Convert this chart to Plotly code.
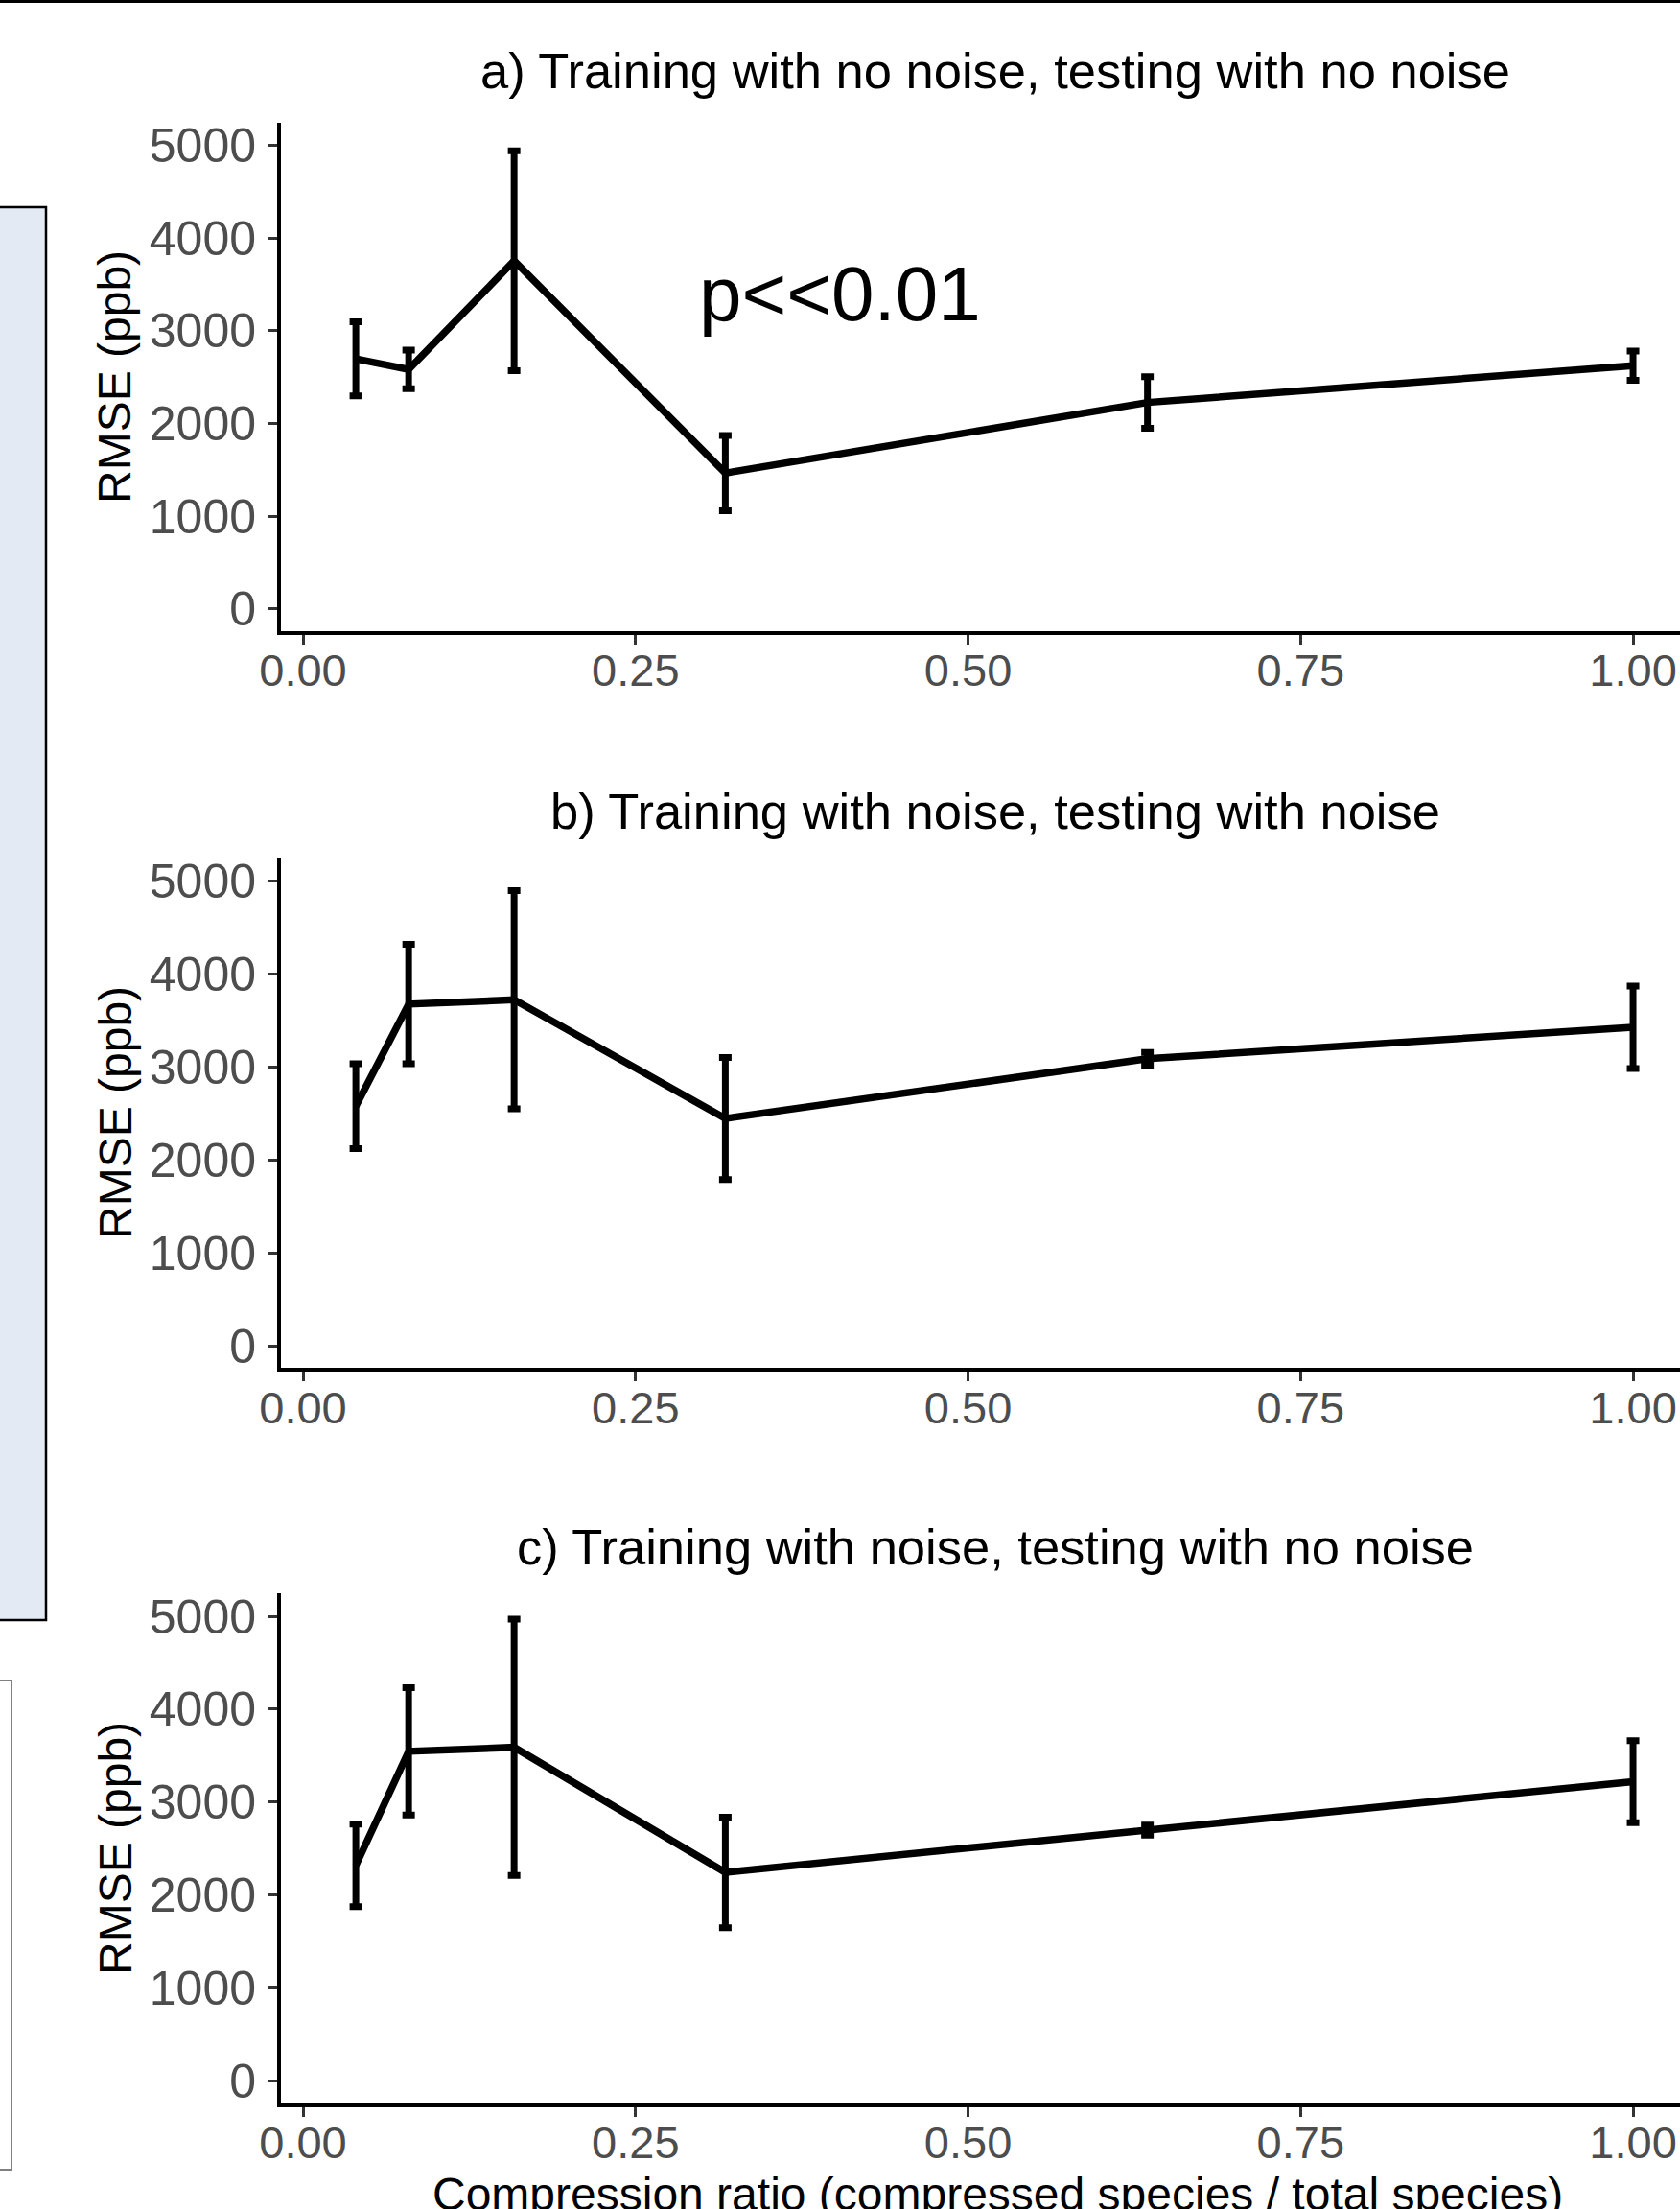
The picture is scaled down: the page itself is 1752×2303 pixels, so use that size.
import plotly.graph_objects as go

# ---- data ----
compression_ratio = [0.0397, 0.0794, 0.1587, 0.3175, 0.6349, 1.0]

rmse_a = [2698, 2583, 3755, 1465, 2227, 2624]
sd_a = [400, 208, 1186, 406, 277, 157]

rmse_b = [2576, 3675, 3721, 2444, 3087, 3425]
sd_b = [456, 643, 1173, 656, 68, 444]

rmse_c = [2319, 3547, 3590, 2243, 2699, 3220]
sd_c = [444, 685, 1381, 595, 54, 441]

panel_titles = [
    "a) Training with no noise, testing with no noise",
    "b) Training with noise, testing with noise",
    "c) Training with noise, testing with no noise",
]
x_ticks = [0.0, 0.25, 0.5, 0.75, 1.0]
x_tick_labels = ["0.00", "0.25", "0.50", "0.75", "1.00"]
y_ticks = [0, 1000, 2000, 3000, 4000, 5000]
y_tick_labels = ["0", "1000", "2000", "3000", "4000", "5000"]
y_title = "RMSE (ppb)"
x_title = "Compression ratio (compressed species / total species)"
p_label = "p<<0.01"

# ---- layout geometry ----
W, H = 1752, 2303
FONT = "Liberation Sans, Arial, Helvetica, sans-serif"

def py(pix):
    return 1 - pix / H

x_dom = [293 / W, 1.0]
x_rng = [-0.0166, 1.0353]
y_rng = [-240, 5245]
y_doms = [
    [py(658), py(128)],
    [py(1426.3), py(894.6)],
    [py(2192.5), py(1661.4)],
]
title_y = [74, 845, 1612]
ytitle_center = [393, 1160, 1927]

fig = go.Figure()
series = [(rmse_a, sd_a), (rmse_b, sd_b), (rmse_c, sd_c)]
for i, (vals, sds) in enumerate(series):
    suffix = "" if i == 0 else str(i + 1)
    fig.add_trace(go.Scatter(
        x=compression_ratio, y=vals,
        mode="lines",
        line=dict(color="black", width=7.5),
        error_y=dict(type="data", array=sds, visible=True,
                     color="black", thickness=7, width=6.5),
        xaxis="x" + suffix, yaxis="y" + suffix,
        showlegend=False, hoverinfo="skip",
    ))

axis_common = dict(
    showgrid=False, zeroline=False, showline=True, automargin=False,
    linecolor="black", linewidth=4,
    ticks="outside", ticklen=10, tickwidth=3, tickcolor="#333333",
)

layout = dict(
    template="none",
    width=W, height=H, autosize=False,
    margin=dict(l=0, r=0, t=0, b=0, pad=0, autoexpand=False),
    paper_bgcolor="white", plot_bgcolor="white",
    font=dict(family=FONT),
    showlegend=False,
)
for i in range(3):
    suffix = "" if i == 0 else str(i + 1)
    layout["xaxis" + suffix] = dict(
        axis_common, domain=x_dom, range=x_rng,
        tickvals=x_ticks, ticktext=x_tick_labels,
        tickfont=dict(family=FONT, size=47, color="#4D4D4D"),
        anchor="y" + suffix, ticklabelstandoff=-13,
    )
    layout["yaxis" + suffix] = dict(
        axis_common, domain=y_doms[i], range=y_rng,
        tickvals=y_ticks, ticktext=y_tick_labels,
        tickfont=dict(family=FONT, size=50, color="#4D4D4D"),
        anchor="x" + suffix, ticklabelstandoff=2,
    )
fig.update_layout(**layout)

annotations = []
for i in range(3):
    annotations.append(dict(
        text=panel_titles[i], xref="paper", yref="paper",
        x=1038 / W, y=py(title_y[i]), xanchor="center", yanchor="middle",
        showarrow=False, font=dict(family=FONT, size=52.5, color="black"),
    ))
    annotations.append(dict(
        text=y_title, xref="paper", yref="paper",
        x=120 / W, y=py(ytitle_center[i]), xanchor="center", yanchor="middle",
        textangle=-90, showarrow=False,
        font=dict(family=FONT, size=48, color="black"),
    ))
annotations.append(dict(
    text=x_title, xref="paper", yref="paper",
    x=1040 / W, y=py(2287), xanchor="center", yanchor="middle",
    showarrow=False, font=dict(family=FONT, size=48, color="black"),
))
annotations.append(dict(
    text=p_label, xref="x", yref="y",
    x=0.4034, y=3400, xanchor="center", yanchor="middle",
    showarrow=False, font=dict(family=FONT, size=80, color="black"),
))
fig.update_layout(annotations=annotations)

shapes = [
    # top rule
    dict(type="rect", xref="paper", yref="paper", x0=0, x1=1,
         y0=py(3), y1=1.001, fillcolor="black", line=dict(width=0), layer="above"),
    # light blue box on the left (cropped neighbouring panel)
    dict(type="rect", xref="paper", yref="paper", x0=-0.01, x1=48 / W,
         y0=py(1689), y1=py(216), fillcolor="#E4EAF4",
         line=dict(color="black", width=2.5), layer="below"),
    # thin grey box lower left
    dict(type="rect", xref="paper", yref="paper", x0=-0.01, x1=12 / W,
         y0=py(2262), y1=py(1752), fillcolor="white",
         line=dict(color="#808080", width=2), layer="below"),
]
fig.update_layout(shapes=shapes)

post = (
    "document.documentElement.style.margin='0';"
    "document.documentElement.style.padding='0';"
    "document.documentElement.style.overflow='hidden';"
    "document.body.style.margin='0';"
    "document.body.style.padding='0';"
    "document.body.style.overflow='hidden';"
)
fig.write_html("out.html", post_script=post,
               config={"displayModeBar": False, "responsive": False})
